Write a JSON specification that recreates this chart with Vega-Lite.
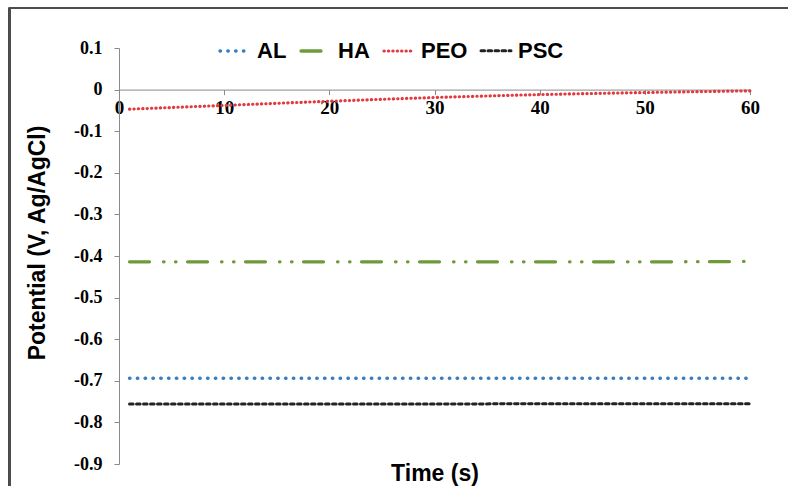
{
  "$schema": "https://vega.github.io/schema/vega-lite/v6.json",
  "width": 631,
  "height": 416,
  "autosize": "none",
  "padding": {"left": 119, "top": 48, "right": 38, "bottom": 22},
  "background": "white",
  "config": {"view": {"stroke": null}},
  "data": {"values": [
    {"series": "AL", "t": 1, "v": -0.694},
    {"series": "AL", "t": 10, "v": -0.694},
    {"series": "AL", "t": 20, "v": -0.694},
    {"series": "AL", "t": 30, "v": -0.694},
    {"series": "AL", "t": 40, "v": -0.694},
    {"series": "AL", "t": 50, "v": -0.694},
    {"series": "AL", "t": 60, "v": -0.694},
    {"series": "HA", "t": 1, "v": -0.414},
    {"series": "HA", "t": 10, "v": -0.414},
    {"series": "HA", "t": 20, "v": -0.414},
    {"series": "HA", "t": 30, "v": -0.414},
    {"series": "HA", "t": 40, "v": -0.414},
    {"series": "HA", "t": 50, "v": -0.414},
    {"series": "HA", "t": 60, "v": -0.413},
    {"series": "PEO", "t": 1, "v": -0.047},
    {"series": "PEO", "t": 10, "v": -0.038},
    {"series": "PEO", "t": 20, "v": -0.028},
    {"series": "PEO", "t": 30, "v": -0.019},
    {"series": "PEO", "t": 40, "v": -0.012},
    {"series": "PEO", "t": 50, "v": -0.007},
    {"series": "PEO", "t": 60, "v": -0.003},
    {"series": "PSC", "t": 1, "v": -0.756},
    {"series": "PSC", "t": 10, "v": -0.756},
    {"series": "PSC", "t": 20, "v": -0.756},
    {"series": "PSC", "t": 30, "v": -0.756},
    {"series": "PSC", "t": 40, "v": -0.755},
    {"series": "PSC", "t": 50, "v": -0.755},
    {"series": "PSC", "t": 60, "v": -0.755}
  ]},
  "layer": [
    {
      "mark": {"type": "line", "clip": false, "strokeCap": "round", "interpolate": "monotone"},
      "encoding": {
        "x": {
          "field": "t", "type": "quantitative",
          "scale": {"domain": [0, 60], "nice": false, "zero": false},
          "axis": {
            "orient": "bottom", "offset": -374.4,
            "values": [0, 10, 20, 30, 40, 50, 60],
            "grid": false, "tickSize": 5, "tickColor": "#8a8a8a", "domainColor": "#8a8a8a",
            "labelFont": "Liberation Serif", "labelFontWeight": "bold", "labelFontSize": 19,
            "labelColor": "black", "labelPadding": 4, "labelFlush": false, "labelOverlap": false,
            "title": "Time (s)", "titleFont": "Liberation Sans", "titleFontWeight": "bold",
            "titleFontSize": 23, "titleColor": "black", "titleY": 390.5, "titleBaseline": "alphabetic"
          }
        },
        "y": {
          "field": "v", "type": "quantitative",
          "scale": {"domain": [-0.9, 0.1], "nice": false, "zero": false},
          "axis": {
            "values": [0.1, 0, -0.1, -0.2, -0.3, -0.4, -0.5, -0.6, -0.7, -0.8, -0.9],
            "grid": false, "tickSize": 5, "tickColor": "#8a8a8a", "domainColor": "#8a8a8a",
            "labelExpr": "abs(datum.value) < 1e-9 ? '0' : replace(format(datum.value, '.1f'), '\u2212', '-')",
            "labelFont": "Liberation Serif", "labelFontWeight": "bold", "labelFontSize": 18,
            "labelColor": "black", "labelPadding": 12, "labelFlush": false, "labelOverlap": false,
            "title": "Potential (V, Ag/AgCl)", "titleFont": "Liberation Sans", "titleFontWeight": "bold",
            "titleFontSize": 23, "titleColor": "black", "titleAngle": -90,
            "titleX": -75, "titleY": 194.5, "titleAlign": "center", "titleBaseline": "alphabetic"
          }
        },
        "color": {
          "field": "series", "type": "nominal",
          "scale": {"domain": ["AL", "HA", "PEO", "PSC"], "range": ["#3b7ec0", "#6f9a3b", "#e0393e", "#222222"]},
          "legend": {
            "title": null, "orient": "none", "legendX": 99, "legendY": -14,
            "direction": "horizontal", "columns": 4, "columnPadding": 7,
            "symbolType": "stroke", "symbolSize": 900, "labelOffset": 5,
            "labelFont": "Liberation Sans", "labelFontWeight": "bold", "labelFontSize": 22, "labelColor": "black",
            "encode": {"symbols": {"update": {"strokeCap": {"value": "round"}}}}
          }
        },
        "strokeDash": {
          "field": "series", "type": "nominal",
          "scale": {"domain": ["AL", "HA", "PEO", "PSC"], "range": [[0.5, 7.3], [20, 14, 0.5, 11.5, 0.5, 11.5], [0.3, 4.1], [3.6, 3.4]]},
          "legend": {"title": null}
        },
        "strokeWidth": {
          "field": "series", "type": "nominal",
          "scale": {"domain": ["AL", "HA", "PEO", "PSC"], "range": [3.4, 3, 2.3, 1.1]},
          "legend": {"title": null}
        }
      }
    },
    {
      "mark": {"type": "rule", "clip": false, "color": "#4d4d4d", "strokeWidth": 1.5},
      "encoding": {
        "x": {"datum": -10.4, "type": "quantitative"},
        "y": {"datum": 0.197, "type": "quantitative"},
        "y2": {"datum": -1.0}
      }
    },
    {
      "mark": {"type": "rule", "clip": false, "color": "#4d4d4d", "strokeWidth": 1.5},
      "encoding": {
        "x": {"datum": -10.4, "type": "quantitative"},
        "x2": {"datum": 65},
        "y": {"datum": 0.197, "type": "quantitative"}
      }
    }
  ]
}
